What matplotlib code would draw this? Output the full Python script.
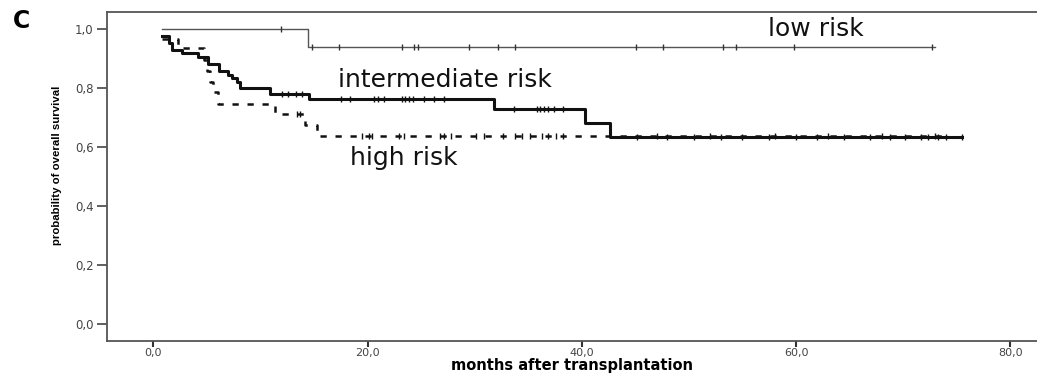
import numpy as np
import matplotlib
matplotlib.use("Agg")
import matplotlib.pyplot as plt

# ---------------- data ----------------
low_t = [0.8, 14.4, 73.0]
low_s = [1.0, 0.9375, 0.9375]
low_cens = [11.9, 14.8, 17.3, 23.2, 24.3, 24.7, 29.5, 32.2, 33.8, 45.1, 47.6,
            53.2, 54.4, 59.8, 72.7]

mid_t = [0.8, 1.5, 1.7, 2.7, 4.2, 5.1, 6.1, 7.0, 7.3, 7.8, 8.1, 10.9, 14.5,
         31.8, 40.3, 42.6, 75.5]
mid_s = [0.976, 0.952, 0.929, 0.917, 0.905, 0.881, 0.857, 0.845, 0.833, 0.821,
         0.80, 0.78, 0.762, 0.728, 0.68, 0.632, 0.632]
mid_cens = [12.0, 12.6, 13.3, 13.9, 17.5, 18.4, 20.6, 21.0, 21.5, 23.2, 23.5,
            23.9, 24.2, 25.3, 26.2, 27.1, 33.7, 35.8, 36.1, 36.5, 36.8, 37.4,
            38.2, 45.2, 48.0, 50.5, 53.0, 55.0, 57.5, 60.0, 62.0, 64.5, 66.9,
            68.8, 70.2, 71.7, 72.3, 73.3, 74.0, 75.5]

high_t = [0.8, 2.3, 4.7, 5.0, 5.3, 5.6, 6.0, 11.4, 14.2, 15.3, 74.0]
high_s = [0.964, 0.935, 0.893, 0.857, 0.821, 0.786, 0.744, 0.711, 0.675,
          0.636, 0.636]
high_cens = [13.4, 13.7, 19.5, 20.1, 20.4, 22.9, 23.4, 26.8, 27.1, 27.8, 30.1,
             30.9, 32.6, 33.8, 34.4, 35.2, 36.3, 36.8, 37.6, 38.2, 47.0, 52.0,
             58.0, 63.0, 68.0, 73.0]

x_ticks = [0, 20, 40, 60, 80]
x_tick_labels = ["0,0", "20,0", "40,0", "60,0", "80,0"]
y_ticks = [0.0, 0.2, 0.4, 0.6, 0.8, 1.0]
y_tick_labels = ["0,0", "0,2", "0,4", "0,6", "0,8", "1,0"]


def step_value(t, s, x):
    t = np.asarray(t)
    s = np.asarray(s)
    idx = np.searchsorted(t, x, side="right") - 1
    idx = np.clip(idx, 0, len(s) - 1)
    return s[idx]


fig = plt.figure(figsize=(10.37, 3.76), dpi=100)
ax = fig.add_axes([0.1035, 0.0935, 0.8965, 0.8735])

# low risk
ax.plot(low_t, low_s, drawstyle="steps-post", color="#555555", lw=1.0)
ax.plot(low_cens, step_value(low_t, low_s, low_cens), ls="none", marker="|",
        ms=5, mew=1.0, color="#333333")

# intermediate risk
ax.plot(mid_t, mid_s, drawstyle="steps-post", color="#111111", lw=2.2)
ax.plot(mid_cens, step_value(mid_t, mid_s, mid_cens), ls="none", marker="|",
        ms=5, mew=1.0, color="#111111")

# high risk
ax.plot(high_t, high_s, drawstyle="steps-post", color="#111111", lw=1.8,
        linestyle=(0, (2.5, 3.5)))
ax.plot(high_cens, step_value(high_t, high_s, high_cens), ls="none",
        marker="|", ms=5, mew=1.0, color="#111111")

ax.set_xlim(-4.3, 82.5)
ax.set_ylim(-0.0576, 1.0556)
ax.set_xticks(x_ticks)
ax.set_xticklabels(x_tick_labels, fontsize=8, color="#444444",
                   family="DejaVu Sans")
ax.set_yticks(y_ticks)
ax.set_yticklabels(y_tick_labels, fontsize=8.5, color="#444444",
                   family="DejaVu Sans")
ax.tick_params(axis="y", length=7, width=1.2, color="#444444", pad=3)
ax.tick_params(axis="x", length=4, width=1.5, color="#333333", pad=1.5)
for side in ["left", "bottom", "top"]:
    ax.spines[side].set_color("#555555")
    ax.spines[side].set_linewidth(1.3)
ax.spines["right"].set_visible(False)

ax.text(57.4, 0.975, "low risk", fontsize=18, family="DejaVu Sans",
        color="#111111", va="baseline")
ax.text(17.2, 0.803, "intermediate risk", fontsize=18, family="DejaVu Sans",
        color="#111111", va="baseline")
ax.text(18.4, 0.54, "high risk", fontsize=18, family="DejaVu Sans",
        color="#111111", va="baseline")

ax.set_xlabel("months after transplantation", fontsize=10.5, fontweight="bold",
              family="DejaVu Sans", labelpad=0)

fig.text(0.055, 0.56, "probability of overall survival", rotation=90,
         fontsize=8.2, fontweight="bold", ha="center", va="center",
         family=["Liberation Sans", "DejaVu Sans"])
fig.text(0.012, 0.975, "C", fontsize=17, fontweight="bold",
         family="DejaVu Sans", va="top")

fig.savefig("out.png", dpi=100)
